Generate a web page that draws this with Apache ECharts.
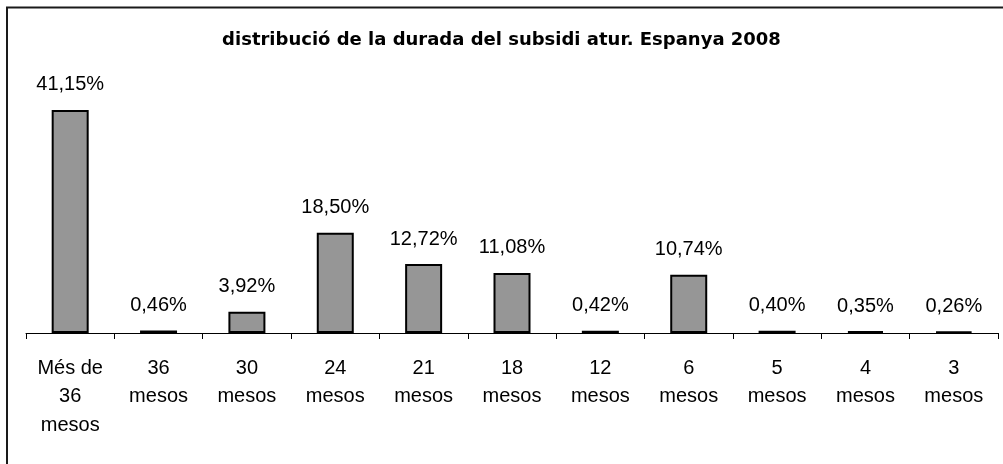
<!DOCTYPE html>
<html>
<head>
<meta charset="utf-8">
<script src="https://cdn.jsdelivr.net/npm/echarts@6/dist/echarts.min.js"></script>
<style>
html,body{margin:0;padding:0;background:#fff;}
#chart{width:1003px;height:464px;}
</style>
</head>
<body>
<div id="chart"></div>
<script>
const titleText = 'distribució de la durada del subsidi atur. Espanya 2008';
const categories = ['Més de\n36\nmesos', '36\nmesos', '30\nmesos', '24\nmesos', '21\nmesos', '18\nmesos', '12\nmesos', '6\nmesos', '5\nmesos', '4\nmesos', '3\nmesos'];
const percentages = [41.15, 0.46, 3.92, 18.50, 12.72, 11.08, 0.42, 10.74, 0.40, 0.35, 0.26];

const chart = echarts.init(document.getElementById('chart'), null, {renderer: 'canvas'});
const fmt = v => v.toFixed(2).replace('.', ',') + '%';

chart.setOption({
  animation: false,
  backgroundColor: '#fff',
  title: {
    text: titleText,
    left: 'center',
    top: 26,
    textStyle: {fontFamily: 'DejaVu Sans', fontWeight: 'bold', fontSize: 18, color: '#000'}
  },
  graphic: [{
    type: 'rect',
    shape: {x: 7, y: 7.5, width: 1200, height: 800},
    style: {fill: 'none', stroke: '#1a1a1a', lineWidth: 2},
    silent: true,
    z: 100
  }],
  grid: {left: 26, right: 5, top: 89, bottom: 131, containLabel: false},
  xAxis: {
    type: 'category',
    data: categories,
    boundaryGap: true,
    axisLine: {show: true, lineStyle: {color: '#000', width: 1}},
    axisTick: {show: true, length: 6, interval: 0, lineStyle: {color: '#000', width: 1}},
    axisLabel: {
      interval: 0,
      margin: 21,
      fontFamily: 'Liberation Sans',
      fontSize: 20,
      lineHeight: 28.5,
      color: '#000'
    },
    splitLine: {show: false}
  },
  yAxis: {
    type: 'value',
    min: 0,
    max: 45,
    show: false,
    splitLine: {show: false}
  },
  series: [{
    type: 'bar',
    data: percentages,
    barWidth: 37,
    itemStyle: {color: '#969696', borderColor: '#000', borderWidth: 2},
    label: {
      show: true,
      position: 'top',
      distance: 15,
      formatter: p => fmt(p.value),
      fontFamily: 'Liberation Sans',
      fontSize: 20,
      color: '#000'
    }
  }]
});
</script>
</body>
</html>
